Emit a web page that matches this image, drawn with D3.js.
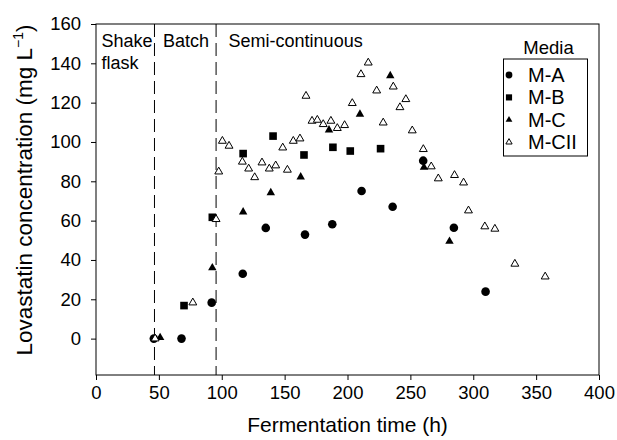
<!DOCTYPE html>
<html><head><meta charset="utf-8">
<script src="https://cdn.jsdelivr.net/npm/d3@7"></script>
<style>body{margin:0;background:#fff}text{font-family:"Liberation Sans",Arial,sans-serif;fill:#000}</style>
</head><body><svg id="c" width="617" height="440"></svg>
<script>
const xTicks = [0,50,100,150,200,250,300,350,400];
const yTicks = [0,20,40,60,80,100,120,140,160];
const phaseBounds = [46.5, 95.5];
const seriesNames = ["M-A","M-B","M-C","M-CII"];
const mA = [[46,0],[68,0],[92,18.3],[116.7,33],[135,56.3],[166.2,52.9],[187.9,58.2],[211.2,75.1],[235.9,67.1],[260.2,90.5],[284.6,56.4],[309.8,23.9]];
const mB = [[70,16.8],[92.5,61.7],[117,94.1],[140.8,103],[165.4,93.4],[188.4,97.3],[202.2,95.4],[226.3,96.6]];
const mC = [[51,0.5],[92.5,36],[117,64.4],[139,74.2],[162.8,82.2],[185.3,106.1],[209.9,114.1],[234,133.7],[260.8,87.1],[281.1,49.5]];
const mCII = [[47,0],[77,18.3],[95.5,60.7],[97.6,84.9],[100.5,100.5],[105.8,98],[116.4,89.9],[121.4,86.4],[126.2,82],[132,89.5],[137.8,86.4],[142.9,88],[148.5,97.1],[152.2,85.8],[156.9,100.5],[162.2,101.7],[167,123.4],[171.8,110.7],[176,111.2],[180.7,109],[186.8,110.7],[191.9,107],[197.7,108.5],[203.8,119.7],[210.7,134.4],[216.5,140.3],[223.2,126.1],[228.4,109.8],[236.4,128.1],[241.7,117.6],[246.4,121.7],[251.5,105.8],[260.3,96.3],[266.6,87.5],[272.2,81.4],[285.1,83.1],[292.3,79.3],[296.2,65.1],[309.2,57],[317.2,55.8],[333.1,38],[357.2,31.5]];

const svg = d3.select("#c");
const L=96,R=599,T=24,B=375;
const x = d3.scaleLinear().domain([0,400]).range([L,R]);
const y = d3.scaleLinear().domain([-18.5,160]).range([B,T]);

// frame
svg.append("rect").attr("x",L).attr("y",T).attr("width",R-L).attr("height",B-T)
  .attr("fill","none").attr("stroke","#000").attr("stroke-width",1);

const xa = svg.append("g").attr("transform",`translate(0,${B})`)
  .call(d3.axisBottom(x).tickValues(xTicks).tickSize(5).tickPadding(6).tickFormat(d3.format("d")));
const ya = svg.append("g").attr("transform",`translate(${L},0)`)
  .call(d3.axisLeft(y).tickValues(yTicks).tickSize(5).tickPadding(10).tickFormat(d3.format("d")));
[xa,ya].forEach(a=>{a.select(".domain").remove();a.selectAll("line").attr("stroke","#000");
  a.selectAll("text").attr("font-family","Liberation Sans, Arial, sans-serif").style("font-size","18.5px").attr("fill","#000");});

// phase lines
svg.selectAll(".ph").data(phaseBounds).enter().append("line")
  .attr("x1",d=>x(d)).attr("x2",d=>x(d)).attr("y1",T).attr("y2",B)
  .attr("stroke","#000").attr("stroke-width",1).attr("stroke-dasharray","13,6");

// phase labels
const lab = svg.append("g").style("font-size","18px");
lab.append("text").attr("x",x(0)+5.5).attr("y",47).text("Shake");
lab.append("text").attr("x",x(0)+5.5).attr("y",68.5).text("flask");
lab.append("text").attr("x",x(phaseBounds[0])+8.5).attr("y",47).text("Batch");
lab.append("text").attr("x",x(phaseBounds[1])+12.5).attr("y",47).text("Semi-continuous");

// axis titles
svg.append("text").attr("x",(L+R)/2).attr("y",432).attr("text-anchor","middle")
  .style("font-size","21px").text("Fermentation time (h)");
const yt = svg.append("text").attr("transform","translate(32,190) rotate(-90)").attr("text-anchor","middle")
  .style("font-size","22.5px");
yt.append("tspan").text("Lovastatin concentration (mg L");
yt.append("tspan").attr("dy",-9).style("font-size","14px").text("\u22121");
yt.append("tspan").attr("dy",9).text(")");

// markers
const styles = [
  {data:mA, type:d3.symbolCircle, size:58, fill:"#000", stroke:"none", lsize:36},
  {data:mB, type:d3.symbolSquare, size:58, fill:"#000", stroke:"none", lsize:38},
  {data:mC, type:d3.symbolTriangle, size:31, fill:"#000", stroke:"none", lsize:20},
  {data:mCII, type:d3.symbolTriangle, size:27, fill:"#fff", stroke:"#000", lsize:17}
];
const pts = svg.append("g");
styles.forEach((s,i)=>{
  pts.append("g").selectAll("path").data(s.data).enter().append("path")
    .attr("d",d3.symbol().type(s.type).size(s.size))
    .attr("transform",d=>`translate(${x(d[0])},${y(d[1])})`)
    .attr("fill",s.fill).attr("stroke",s.stroke).attr("stroke-width",1);
});

// legend
const lg = svg.append("g");
lg.append("text").attr("x",548.5).attr("y",53.5).attr("text-anchor","middle").style("font-size","18.5px").text("Media");
lg.append("rect").attr("x",503.5).attr("y",59).attr("width",84).attr("height",97)
  .attr("fill","#fff").attr("stroke","#000").attr("stroke-width",1);
seriesNames.forEach((n,i)=>{
  const s = styles[i], cy = 75 + i*22.4;
  lg.append("path").attr("d",d3.symbol().type(s.type).size(s.lsize))
    .attr("transform",`translate(509,${cy})`).attr("fill",s.fill).attr("stroke",s.stroke).attr("stroke-width",1);
  lg.append("text").attr("x",528).attr("y",cy+7).style("font-size","20px").text(n);
});
</script></body></html>
